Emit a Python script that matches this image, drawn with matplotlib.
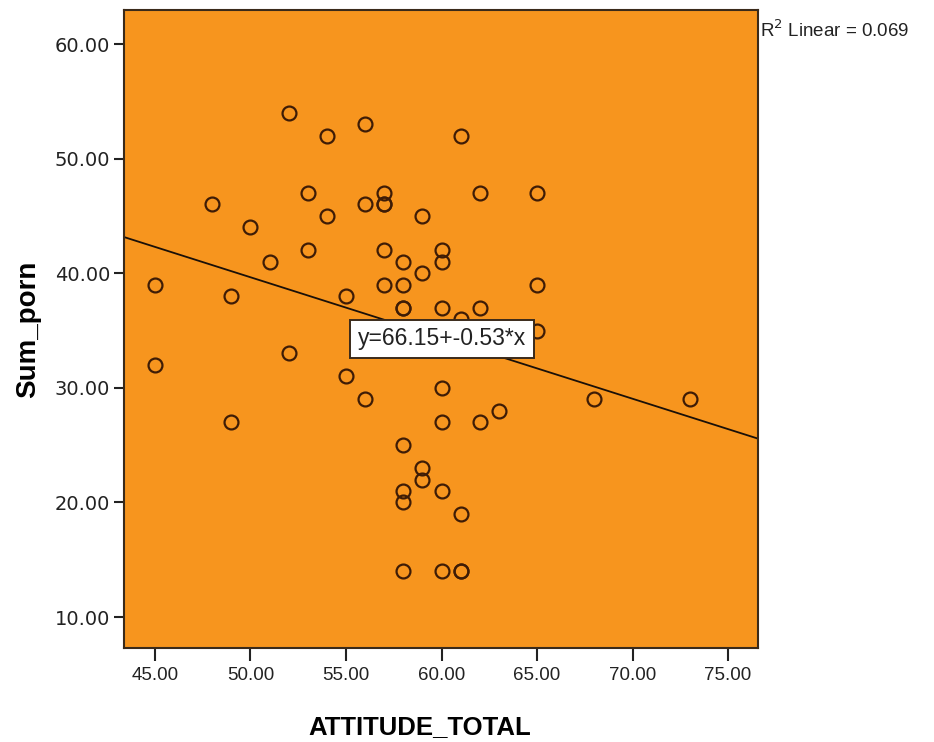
import matplotlib
matplotlib.use("Agg")
import matplotlib.pyplot as plt

# values
attitude = [45, 45, 48, 49, 49, 50, 51, 52, 52, 53, 53, 54, 54, 55, 55,
            56, 56, 56, 57, 57, 57, 57, 57, 58, 58, 58, 58, 58, 58, 58, 58,
            59, 59, 59, 59, 60, 60, 60, 60, 60, 60, 60, 61, 61, 61, 61, 61,
            62, 62, 62, 63, 65, 65, 65, 68, 73]
sum_porn = [39, 32, 46, 38, 27, 44, 41, 54, 33, 47, 42, 52, 45, 38, 31,
            53, 46, 29, 47, 46, 46, 42, 39, 41, 39, 37, 37, 25, 21, 20, 14,
            45, 40, 23, 22, 42, 41, 37, 30, 27, 21, 14, 52, 36, 19, 14, 14,
            47, 37, 27, 28, 47, 39, 35, 29, 29]

intercept = 66.15
slope = -0.53
r2 = 0.069

xticks = [45, 50, 55, 60, 65, 70, 75]
yticks = [10, 20, 30, 40, 50, 60]

fig = plt.figure(figsize=(9.34, 7.42), dpi=100)
ax = fig.add_axes([0.1328, 0.1267, 0.6788, 0.8598])
ax.set_facecolor("#F7951E")

xmin, xmax = 43.38, 76.57
ax.set_xlim(xmin, xmax)
ax.set_ylim(7.3, 62.97)

ax.plot([xmin, xmax], [intercept + slope * xmin, intercept + slope * xmax],
        color="#1a1008", lw=1.3, zorder=2)

ax.plot(attitude, sum_porn, linestyle="none", marker="o", ms=10,
        mfc="none", mec="#3e1c06", mew=1.6, zorder=3)

ax.text(60.03, 34.3, "y=66.15+-0.53*x", ha="center", va="center",
        fontsize=16.5, family="Liberation Sans", color="#222222", zorder=4,
        bbox=dict(boxstyle="square,pad=0.33", fc="white", ec="#3a2a1a", lw=1.4))

ax.set_xticks(xticks)
ax.set_xticklabels(["%.2f" % v for v in xticks], family="Liberation Sans",
                   fontsize=13.5, color="#222222")
ax.set_yticks(yticks)
ax.set_yticklabels(["%.2f" % v for v in yticks], family="DejaVu Sans",
                   fontsize=14, color="#222222")
ax.tick_params(axis="x", direction="out", length=9, width=1.5, pad=5, colors="#222222")
ax.tick_params(axis="y", direction="out", length=7, width=1.5, pad=3, colors="#222222")

for s in ax.spines.values():
    s.set_linewidth(1.5)
    s.set_color("#3a2a1a")

ax.set_xlabel("ATTITUDE_TOTAL", family="Liberation Sans", fontweight="bold",
              fontsize=18.5)
ax.xaxis.set_label_coords(0.467, -0.105)
ax.set_ylabel("Sum_porn", family="Liberation Sans", fontweight="bold",
              fontsize=20, labelpad=10)

fig.text(0.8138, 0.95, "R$^2$ Linear = 0.069", family="Liberation Sans",
         fontsize=13.5, color="#222222", ha="left", va="baseline")

fig.savefig("out.png", dpi=100)
